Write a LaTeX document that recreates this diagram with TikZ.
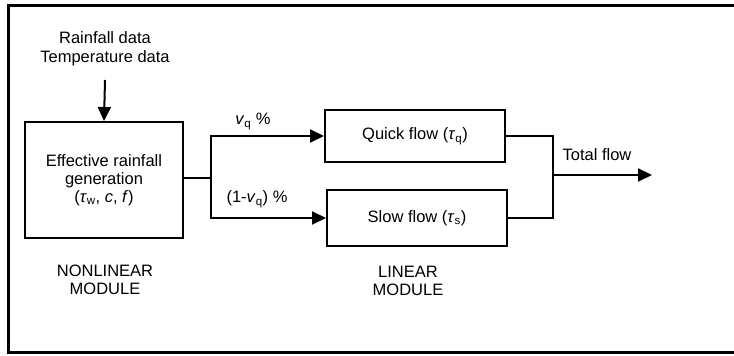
\documentclass[tikz,border=0pt]{standalone}
\usepackage{fontspec}
\setmainfont{Liberation Sans}
\usetikzlibrary{arrows.meta}
\tikzset{
  txt/.style={font=\fontsize{16.5}{18}\selectfont, align=center, inner sep=0pt},
  blk/.style={draw, line width=2pt, font=\fontsize{16.5}{18}\selectfont, align=center, inner sep=0pt},
  arr/.style={line width=2pt, -{Triangle[length=14pt,width=13pt]}},
  ln/.style={line width=2pt}
}
\begin{document}
\begin{tikzpicture}[x=1pt,y=-1pt]
\useasboundingbox (0,0) rectangle (734,356);
\draw[line width=3pt] (734,5) -- (8,5) -- (8,352) -- (734,352);
\node[txt] (inp) at (105,49) {Rainfall data\\[1pt]Temperature data};
\node[blk, minimum width=158pt, minimum height=116pt] (eff) at (104,180) {Effective rainfall\\generation\\(\textit{τ}\textsubscript{w}, \textit{c}, \textit{f})};
\node[blk, minimum width=180pt, minimum height=52pt] (quick) at (415,136) {Quick flow (\textit{τ}\textsubscript{q})};
\node[blk, minimum width=180pt, minimum height=56pt] (slow) at (417,218) {Slow flow (\textit{τ}\textsubscript{s})};
\node[txt] (nlm) at (105,280) {NONLINEAR\\MODULE};
\node[txt] (lm) at (408,281) {LINEAR\\MODULE};
\node[txt, anchor=south] (vq) at (253,130) {\textit{v}\textsubscript{q} \%};
\node[txt, anchor=south] (vs) at (257,208) {(1-\textit{v}\textsubscript{q}) \%};
\node[txt, anchor=south] (tot) at (597,161) {Total flow};
\coordinate (ia) at (105,80);
\coordinate (split) at (211,178);
\coordinate (jn) at (553,175);
\coordinate (out) at (652,175);
\draw[arr] (ia) -- (eff.north);
\draw[ln] (eff.east |- split) -- (split);
\draw[arr] (split) |- (quick.west);
\draw[arr] (split) |- (slow.west);
\draw[ln] (quick.east) -| (jn) |- (slow.east);
\draw[arr] (jn) -- (out);
\end{tikzpicture}
\end{document}
